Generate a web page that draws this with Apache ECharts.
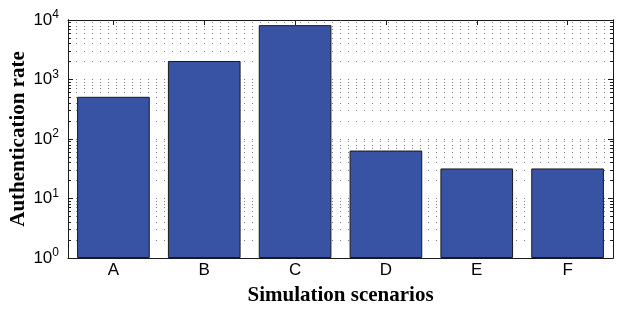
<!DOCTYPE html>
<html>
<head>
<meta charset="utf-8">
<script src="https://cdn.jsdelivr.net/npm/echarts@6/dist/echarts.min.js"></script>
<style>
  html, body { margin: 0; padding: 0; background: #fff; }
  #main { width: 619px; height: 310px; }
</style>
</head>
<body>
<div id="main"></div>
<script>
// scenario names and authentication rate per scenario
var categories = ['A', 'B', 'C', 'D', 'E', 'F'];
var rates = [512, 2048, 8192, 64, 32, 32];
// log axis decades and minor steps inside each decade
var decades = [1, 10, 100, 1000];
var minorSteps = [2, 3, 4, 5, 6, 7, 8, 9];

var minorValues = [];
decades.forEach(function(d) {
    minorSteps.forEach(function(m) { minorValues.push(d * m); });
});
var gridValues = [1, 10, 100, 1000, 10000].concat(minorValues);

var black = '#1a1a1a';
var dotted = { color: '#808080', width: 1, type: [1, 7] };

function logAxis(pos, len, ticks, labels, grid) {
    var ax = {
        type: 'log', logBase: 10, min: 1, max: 10000, position: pos,
        axisLine: { show: true, lineStyle: { color: black, width: 1 } },
        axisTick: { show: true, inside: true, length: len, lineStyle: { color: black } },
        axisLabel: { show: false },
        splitLine: { show: false }
    };
    if (ticks) ax.axisTick.customValues = ticks;
    if (grid) ax.splitLine = { show: true, lineStyle: dotted };
    if (labels) {
        ax.name = 'Authentication rate';
        ax.nameLocation = 'middle';
        ax.nameGap = 39;
        ax.nameMoveOverlap = false;
        ax.nameTextStyle = { fontFamily: 'Liberation Serif', fontWeight: 'bold', fontSize: 21, color: '#000' };
        ax.axisLabel = {
            show: true, margin: 9,
            formatter: function(v) {
                return '{b|10}{s|' + Math.round(Math.log10(v)) + '}';
            },
            rich: {
                b: { fontFamily: 'Liberation Sans', fontSize: 17, color: '#000' },
                s: { fontFamily: 'Liberation Sans', fontSize: 12, color: '#000', verticalAlign: 'bottom', padding: [0, 0, 10, 0] }
            }
        };
    }
    return ax;
}

var chart = echarts.init(document.getElementById('main'));
chart.setOption({
    animation: false,
    grid: { left: 68, right: 6, top: 20, bottom: 52, containLabel: false, outerBoundsMode: 'none' },
    xAxis: [{
        type: 'category', data: categories, position: 'bottom',
        name: 'Simulation scenarios', nameLocation: 'middle', nameGap: 27,
        nameTextStyle: { fontFamily: 'Liberation Serif', fontWeight: 'bold', fontSize: 21, color: '#000' },
        axisLine: { lineStyle: { color: black, width: 1 } },
        axisTick: { show: false },
        axisLabel: { fontFamily: 'Liberation Sans', fontSize: 17, color: '#000', margin: 4 }
    }, {
        type: 'category', data: categories, position: 'top',
        axisLine: { show: true, lineStyle: { color: black, width: 1 } },
        axisTick: { show: true, inside: true, alignWithLabel: true, length: 5, lineStyle: { color: black } },
        axisLabel: { show: false }
    }],
    yAxis: [
        logAxis('left', 5, null, true, false),
        logAxis('left', 3, minorValues, false, false),
        logAxis('left', 0, gridValues, false, true),
        logAxis('right', 5, null, false, false),
        logAxis('right', 3, minorValues, false, false)
    ],
    series: [{
        type: 'bar', data: rates, xAxisIndex: 0, yAxisIndex: 0,
        barCategoryGap: '20%',
        itemStyle: { color: '#3953a4', borderColor: black, borderWidth: 1 }
    }]
});
</script>
</body>
</html>
